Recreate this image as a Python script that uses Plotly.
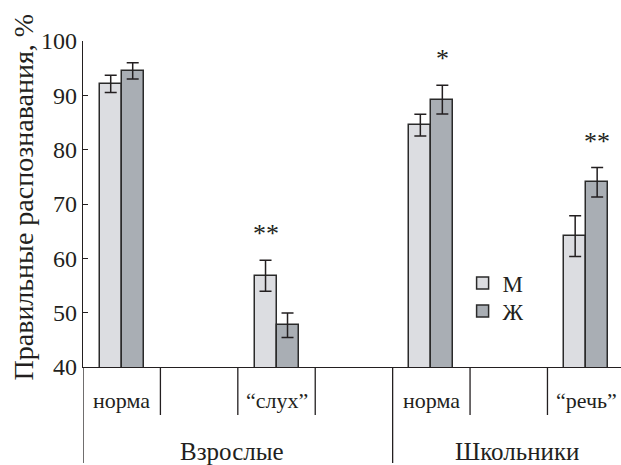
import plotly.graph_objects as go

# ---- data ----
groups = ["Взрослые", "Школьники"]
conditions = ["норма", "“слух”", "норма", "“речь”"]
series_names = ["М", "Ж"]
m_vals = [92.1, 56.8, 84.5, 64.1]
m_err = [1.6, 2.85, 2.0, 3.75]
f_vals = [94.5, 47.7, 89.2, 74.0]
f_err = [1.5, 2.25, 2.65, 2.7]
sig_marks = ["", "**", "*", "**"]
sig_on = ["", "М", "Ж", "Ж"]
y_ticks = [40, 50, 60, 70, 80, 90, 100]

# ---- layout helpers ----
slot_pos = [0.5, 2.5, 4.5, 6.5]      # condition slot centres (one empty slot between)
bar_w = 0.284
FONT = "Liberation Serif, DejaVu Serif, Times New Roman, serif"
TXT = "#231f20"
M_COL = "#dcdde1"
F_COL = "#a9aeb4"
EDGE = "#2a2a2a"

fig = go.Figure()
fig.add_trace(go.Bar(
    x=slot_pos, y=m_vals, name=series_names[0], width=bar_w, offset=-bar_w,
    marker=dict(color=M_COL, line=dict(color=EDGE, width=1.5)),
    error_y=dict(type="data", array=m_err, color=TXT, thickness=1.5, width=6),
    legend="legend",
))
fig.add_trace(go.Bar(
    x=slot_pos, y=f_vals, name=series_names[1], width=bar_w, offset=0,
    marker=dict(color=F_COL, line=dict(color=EDGE, width=1.5)),
    error_y=dict(type="data", array=f_err, color=TXT, thickness=1.5, width=6),
    legend="legend2",
))

shapes = []
annotations = []
plot_h = 465 - 41 - 98
short_y = -48 / plot_h
long_y = -96 / plot_h
for b in [1, 2, 3, 5, 6]:
    shapes.append(dict(type="line", xref="x", yref="paper", x0=b, x1=b, y0=0, y1=short_y,
                       line=dict(color=TXT, width=1.3)))
for b in [0, 4]:
    shapes.append(dict(type="line", xref="x", yref="paper", x0=b, x1=b, y0=0, y1=long_y,
                       line=dict(color=TXT, width=1.3)))

for p, c in zip(slot_pos, conditions):
    annotations.append(dict(x=p, y=0, xref="x", yref="paper", text=c, showarrow=False,
                            yanchor="middle", yshift=-33, font=dict(family=FONT, size=22, color=TXT)))

group_x = [1.93, 5.61]
for gx, g in zip(group_x, groups):
    annotations.append(dict(x=gx, y=0, xref="x", yref="paper", text=g, showarrow=False,
                            yanchor="middle", yshift=-84, font=dict(family=FONT, size=25, color=TXT)))

for p, s, on, mv, me, fv, fe in zip(slot_pos, sig_marks, sig_on, m_vals, m_err, f_vals, f_err):
    if not s:
        continue
    if on == "М":
        xx, yy = p - bar_w / 2, mv + me
    else:
        xx, yy = p + bar_w / 2, fv + fe
    annotations.append(dict(x=xx, y=yy, xref="x", yref="y", text=s, showarrow=False,
                            yanchor="bottom", yshift=10, font=dict(family=FONT, size=26, color=TXT)))

annotations.append(dict(x=0, y=0.52, xref="paper", yref="paper", xshift=-60,
                        text="Правильные распознавания, %", textangle=-90, showarrow=False,
                        xanchor="center", yanchor="middle",
                        font=dict(family=FONT, size=28, color=TXT)))

leg_common = dict(xanchor="left", yanchor="middle", font=dict(family=FONT, size=23, color=TXT),
                  bgcolor="rgba(0,0,0,0)", itemwidth=30)
leg_x = 0.7 + 3 / 538
fig.update_layout(
    width=621, height=465,
    margin=dict(l=83, r=0, t=41, b=98),
    paper_bgcolor="white", plot_bgcolor="white",
    shapes=shapes, annotations=annotations,
    showlegend=True,
    legend=dict(x=leg_x, y=(367 - 283) / plot_h, **leg_common),
    legend2=dict(x=leg_x, y=(367 - 311) / plot_h, **leg_common),
    xaxis=dict(range=[0, 6.95], showgrid=False, zeroline=False, showticklabels=False,
               ticks="", showline=True, linecolor=TXT, linewidth=1.3, fixedrange=True),
    yaxis=dict(range=[40, 100], tickvals=y_ticks, showgrid=False, zeroline=False,
               ticks="inside", ticklen=5, tickwidth=1.3, tickcolor=TXT,
               showline=True, linecolor=TXT, linewidth=1.3,
               tickfont=dict(family=FONT, size=24, color=TXT)),
    bargap=0,
)

fig.write_html("out.html", config={"displayModeBar": False},
               post_script="document.body.style.margin='0';document.body.style.overflow='hidden';")
